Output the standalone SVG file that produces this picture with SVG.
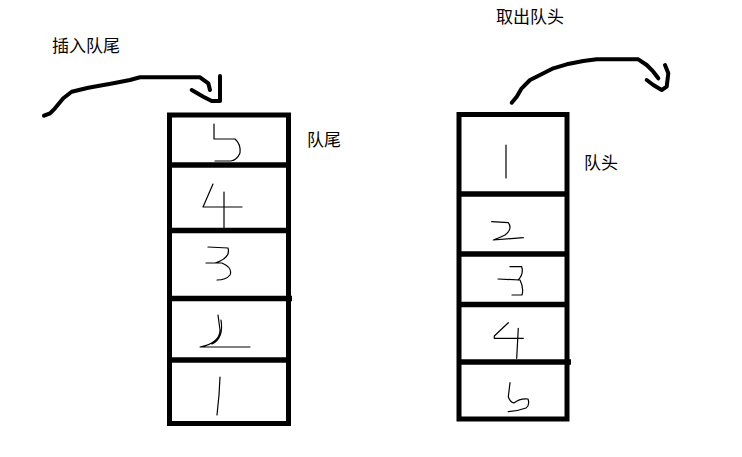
<svg xmlns="http://www.w3.org/2000/svg" width="742" height="457" viewBox="0 0 742 457">
<style>
.box{fill:none;stroke:#000;stroke-width:5}
.div{stroke:#000;stroke-width:5.5}
.dig{fill:none;stroke:#000;stroke-width:1.2;stroke-linecap:round;stroke-linejoin:round}
.arr{fill:none;stroke:#000;stroke-width:4;stroke-linecap:round;stroke-linejoin:round}
.lbl{font-family:"Noto Sans CJK SC","Noto Sans",sans-serif;font-size:17px;fill:#000}
</style>
<rect width="742" height="457" fill="#fff"/>
<g id="connectors">
<path class="arr" d="M44,115.7 L50,113.3 L55,108.3 L63.3,98.3 L71.7,91.7 L88.3,87.7 L113.3,83.3 L130,80 L140,77.3 L200,77.3 L208.3,83.3 L210,90"/>
<path class="arr" d="M191.7,90 L203.3,96.7 L211.7,101 L220,101 L220,76"/>
<path class="arr" d="M511.7,102.7 L516.7,96.7 L521.7,88.3 L530,80 L540,75 L553.3,68.3 L566.7,64.3 L583.3,61 L596.7,59.3 L638.3,59.3 L646.7,65 L653.3,71.7 L658.3,78.3"/>
<path class="arr" d="M646.7,80 L653.3,85 L661.7,90 L666.7,86.7 L668.3,73.3 L665,65"/>
</g>
<g id="left-queue">
<rect class="box" x="169.5" y="115" width="119" height="308.5"/>
<line class="div" x1="167" y1="165" x2="291" y2="165"/>
<line class="div" x1="167" y1="230.5" x2="291" y2="230.5"/>
<line class="div" x1="167" y1="298.5" x2="292" y2="298.5"/>
<line class="div" x1="167" y1="360" x2="291" y2="360"/>
</g>
<g id="left-5"><path class="dig" d="M214,124 L214,139 L235,139 M235,139 Q241,144 240,153 Q237,160 231,161 L215,161"/></g>
<g id="left-4"><path class="dig" d="M213,184 L203,207 L242,207 M224,192 L224,228"/></g>
<g id="left-3"><path class="dig" d="M208,247 L228,248 Q231,258 215,263 M206,263 L222,263 Q233,268 230,275 Q226,280 217,280"/></g>
<g id="left-2"><path class="dig" d="M218,315 L220,330 Q220,343 200,347 L250,347 M221,320 Q224,338 212,344"/></g>
<g id="left-1"><path class="dig" d="M220,377 L219,395 L217,415"/></g>
<g id="label-tail"><text class="lbl" x="307" y="146">队尾</text></g>
<g id="label-insert"><text class="lbl" x="52" y="52">插入队尾</text></g>
<g id="right-queue">
<rect class="box" x="459" y="114.5" width="108" height="304.5"/>
<line class="div" x1="457" y1="194" x2="569" y2="194"/>
<line class="div" x1="457" y1="254" x2="569" y2="254"/>
<line class="div" x1="457" y1="304.5" x2="569" y2="304.5"/>
<line class="div" x1="457" y1="362" x2="571" y2="362"/>
</g>
<g id="right-1"><path class="dig" d="M506,145 L506,178"/></g>
<g id="right-2"><path class="dig" d="M491.7,221.7 L508.3,222.7 Q513,229 505,235 Q499,238 493.3,240 L523.3,237.7"/></g>
<g id="right-3"><path class="dig" d="M510,266.7 L521.7,266.7 Q524,274 518,280 M498,279 L520,280 Q524,288 522,295 L512,295"/></g>
<g id="right-4"><path class="dig" d="M508.3,322.7 L494.3,336 L494.3,338.3 L523.3,338.3 M518.3,328.3 L516.7,358.3"/></g>
<g id="right-5"><path class="dig" d="M510,382.7 L508.3,396.7 Q510,402 514,403 Q520,398 528,399 Q530,405 526,408 Q518,411 508.3,411.7"/></g>
<g id="label-head"><text class="lbl" x="584" y="169">队头</text></g>
<g id="label-remove"><text class="lbl" x="496" y="23">取出队头</text></g>
</svg>
